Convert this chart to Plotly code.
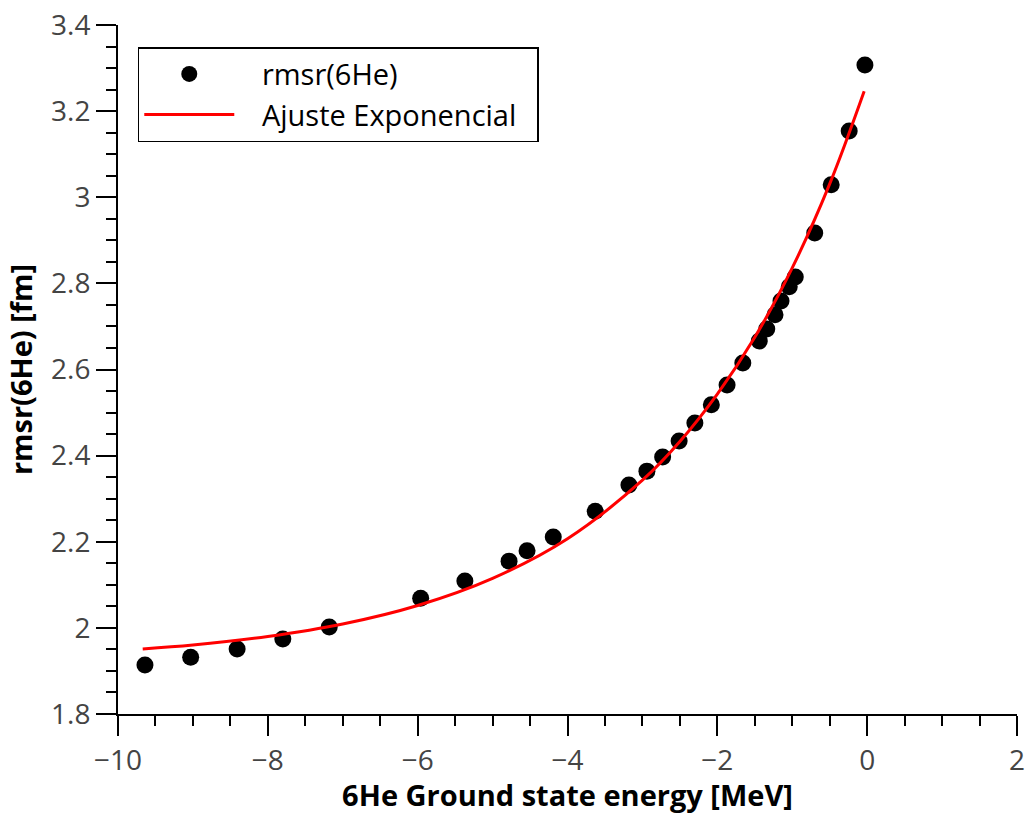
import plotly.graph_objects as go

# rms radius of 6He versus ground-state energy
energy_mev = [-9.64, -9.03, -8.41, -7.80, -7.18, -5.96, -5.37, -4.78, -4.54, -4.19,
              -3.63, -3.18, -2.94, -2.73, -2.51, -2.30, -2.08, -1.87, -1.66, -1.44,
              -1.34, -1.23, -1.15, -1.04, -0.96, -0.70, -0.48, -0.24, -0.03]
rmsr_fm = [1.914, 1.932, 1.951, 1.974, 2.002, 2.069, 2.109, 2.155, 2.179, 2.211,
           2.271, 2.332, 2.364, 2.397, 2.434, 2.476, 2.518, 2.564, 2.615, 2.666,
           2.694, 2.727, 2.759, 2.792, 2.815, 2.917, 3.029, 3.154, 3.307]

# exponential fit curve
fit_x = [-9.67, -9.0, -8.0, -7.0, -6.0, -5.0, -4.0, -3.0, -2.5, -2.0, -1.5, -1.0, -0.5, -0.04]
fit_y = [1.951, 1.960, 1.980, 2.009, 2.052, 2.115, 2.207, 2.343, 2.433, 2.543, 2.675, 2.836, 3.031, 3.246]

FONT = "Open Sans"
NBSP = "\u00a0"

fig = go.Figure()
fig.add_trace(go.Scatter(
    x=energy_mev, y=rmsr_fm, mode="markers", name=NBSP * 3 + "rmsr(6He)",
    marker=dict(color="black", size=17, line=dict(width=0)),
))
fig.add_trace(go.Scatter(
    x=fit_x, y=fit_y, mode="lines", name=NBSP * 3 + "Ajuste Exponencial" + NBSP * 2,
    line=dict(color="red", width=3, shape="spline"),
))

axis_common = dict(
    showgrid=False, zeroline=False, showline=True, linecolor="black", linewidth=2,
    ticks="outside", ticklen=20, tickwidth=2, tickcolor="black", automargin=False,
    ticklabeloverflow="allow",
    tickfont=dict(family=FONT, size=28, color="#444444"),
)

fig.update_layout(
    width=1025, height=814,
    margin=dict(l=118, r=8, t=25, b=100),
    plot_bgcolor="white", paper_bgcolor="white",
    font=dict(family=FONT, color="black"),
    xaxis=dict(
        range=[-10, 2], dtick=2, tick0=0,
        minor=dict(dtick=0.5, ticks="outside", ticklen=10, tickwidth=2, tickcolor="black"),
        title=dict(text="<b>6He Ground state energy [MeV]</b>",
                   font=dict(family=FONT, size=29, color="black"), standoff=2),
        **axis_common,
    ),
    yaxis=dict(
        range=[1.8, 3.4], dtick=0.2, tick0=0,
        minor=dict(dtick=0.05, ticks="outside", ticklen=10, tickwidth=2, tickcolor="black"),
        title=dict(text="<b>rmsr(6He) [fm]</b>",
                   font=dict(family=FONT, size=29, color="black"), standoff=10),
        **axis_common,
    ),
    legend=dict(
        x=0.022, y=0.968, xanchor="left", yanchor="top",
        bordercolor="black", borderwidth=1.5, bgcolor="white",
        font=dict(family=FONT, size=29, color="black"),
        itemwidth=90, tracegroupgap=0,
    ),
    showlegend=True,
)

fig.write_html("out.html")
